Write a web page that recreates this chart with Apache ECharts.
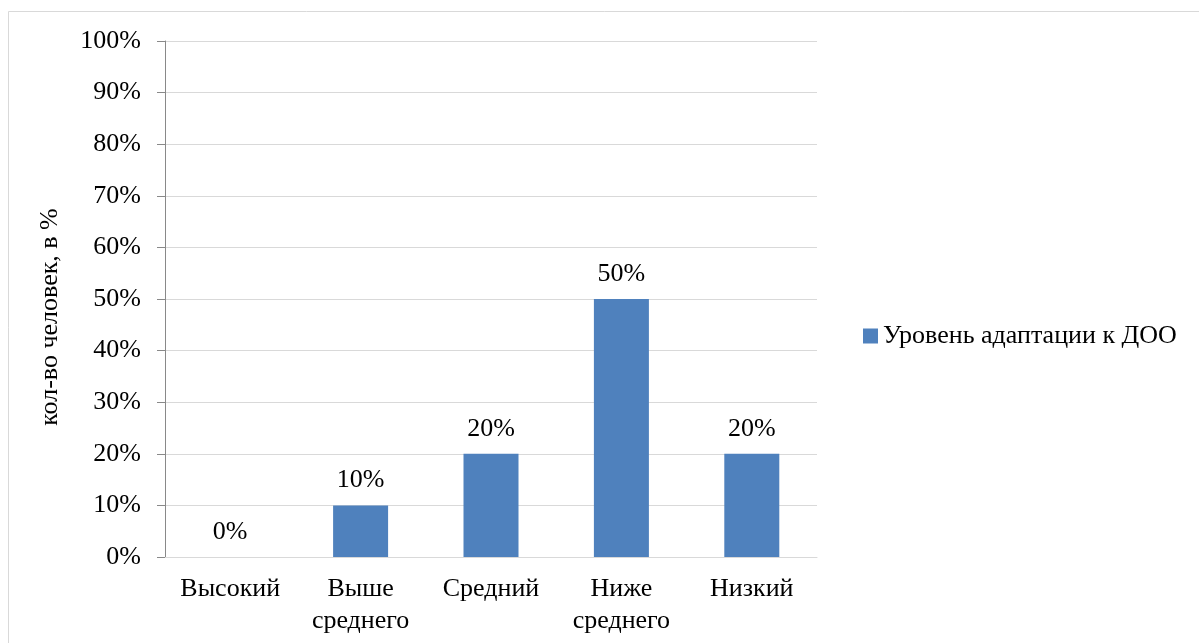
<!DOCTYPE html>
<html>
<head>
<meta charset="utf-8">
<script src="https://cdn.jsdelivr.net/npm/echarts@6/dist/echarts.min.js"></script>
<style>
html,body{margin:0;padding:0;background:#fff;}
#c{width:1199px;height:643px;}
</style>
</head>
<body>
<div id="c"></div>
<script>
const categories = ['Высокий', 'Выше\nсреднего', 'Средний', 'Ниже\nсреднего', 'Низкий'];
const seriesName = 'Уровень адаптации к ДОО';
const values = [0, 10, 20, 50, 20];
const yAxisTitle = 'кол-во человек, в %';

const FONT = 'Liberation Serif';
const chart = echarts.init(document.getElementById('c'));
chart.setOption({
  animation: false,
  backgroundColor: '#ffffff',
  textStyle: { fontFamily: FONT, color: '#000' },
  graphic: [
    { type: 'rect', shape: { x: 8.5, y: 11.5, width: 1400, height: 900 },
      style: { fill: 'none', stroke: '#d9d9d9', lineWidth: 1 }, silent: true },
    { type: 'text', x: 50, y: 317, rotation: Math.PI / 2,
      style: { text: yAxisTitle, font: '26px "Liberation Serif"', fill: '#000',
               align: 'center', verticalAlign: 'middle' } }
  ],
  grid: { left: 165, right: 382, top: 41, bottom: 86, containLabel: false },
  legend: {
    left: 858, top: 316, orient: 'vertical',
    itemWidth: 15, itemHeight: 15,
    icon: 'rect',
    textStyle: { fontFamily: FONT, fontSize: 26, color: '#000', lineHeight: 30 },
    data: [seriesName]
  },
  xAxis: {
    type: 'category',
    data: categories,
    axisLine: { lineStyle: { color: '#d9d9d9', width: 1 } },
    axisTick: { show: false },
    axisLabel: { interval: 0, fontFamily: FONT, fontSize: 26, color: '#000', lineHeight: 32, margin: 16 }
  },
  yAxis: {
    type: 'value',
    min: 0, max: 100, interval: 10,
    axisLine: { show: true, lineStyle: { color: '#898989', width: 1 } },
    axisTick: { show: true, length: 8, lineStyle: { color: '#898989' } },
    splitLine: { lineStyle: { color: '#d9d9d9', width: 1 } },
    axisLabel: { formatter: '{value}%', fontFamily: FONT, fontSize: 26, color: '#000', margin: 24 }
  },
  series: [{
    name: seriesName,
    type: 'bar',
    data: values,
    barWidth: 55,
    itemStyle: { color: '#4f81bd' },
    label: { show: true, position: 'top', distance: 12, formatter: '{c}%',
             fontFamily: FONT, fontSize: 26, color: '#000' }
  }]
});
</script>
</body>
</html>
